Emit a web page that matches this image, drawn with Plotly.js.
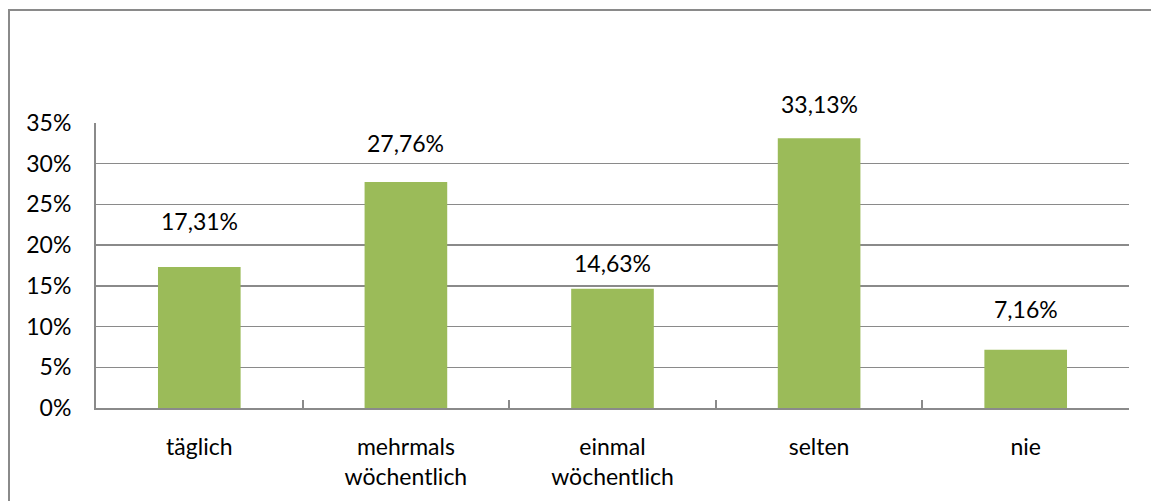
<!DOCTYPE html>
<html>
<head>
<meta charset="utf-8">
<script src="https://cdn.plot.ly/plotly-3.0.1.min.js"></script>
<style>
html,body{margin:0;padding:0;background:#fff;}
#wrap{position:relative;width:1151px;height:501px;overflow:hidden;}
#frame{position:absolute;left:8px;top:9px;width:1200px;height:600px;border-left:2px solid #8a8a8a;border-top:2px solid #8a8a8a;pointer-events:none;z-index:2;}
#chart{position:absolute;left:0;top:0;width:1151px;height:501px;}
</style>
</head>
<body>
<div id="wrap">
<div id="chart"></div>
<div id="frame"></div>
</div>
<script>
const categories = ['täglich', 'mehrmals<br>wöchentlich', 'einmal<br>wöchentlich', 'selten', 'nie'];
const values = [17.31, 27.76, 14.63, 33.13, 7.16];
const yTicks = [0, 5, 10, 15, 20, 25, 30, 35];
// pixel offsets of the value labels above the bar tops (styling, as placed in the reference)
const labelShift = [46, 39, 26, 34, 41];

const FONT = 'Lato, "Open Sans", sans-serif';
const fmt = v => v.toFixed(2).replace('.', ',') + '%';

const trace = {
  type: 'bar',
  x: categories,
  y: values,
  marker: {color: '#9BBB59'},
  hoverinfo: 'skip'
};

const annotations = categories.map((c, i) => ({
  x: c, y: values[i], xref: 'x', yref: 'y',
  text: fmt(values[i]), showarrow: false,
  yanchor: 'middle', yshift: labelShift[i],
  font: {family: FONT, size: 23, color: '#000'}
}));

const layout = {
  width: 1151, height: 501,
  margin: {l: 96, r: 22, t: 123, b: 93},
  paper_bgcolor: '#fff', plot_bgcolor: '#fff',
  showlegend: false,
  bargap: 0.6,
  font: {family: FONT, size: 23, color: '#000'},
  xaxis: {
    type: 'category',
    showline: true, linecolor: '#8a8a8a', linewidth: 2,
    ticks: 'inside', tickson: 'boundaries', ticklen: 8, tickcolor: '#8a8a8a', tickwidth: 2,
    showgrid: false, ticklabelstandoff: 17,
    tickfont: {family: FONT, size: 23, color: '#000'}
  },
  yaxis: {
    range: [0, 35], tickvals: yTicks, ticktext: yTicks.map(v => v + '%'),
    showline: true, linecolor: '#8a8a8a', linewidth: 2,
    showgrid: true, gridcolor: '#8a8a8a', gridwidth: 1.5,
    zeroline: false, ticks: '', ticklabelstandoff: 18,
    tickfont: {family: FONT, size: 23, color: '#000'}
  },
  annotations: annotations
};

Plotly.newPlot('chart', [trace], layout, {displayModeBar: false, staticPlot: true});
</script>
</body>
</html>
